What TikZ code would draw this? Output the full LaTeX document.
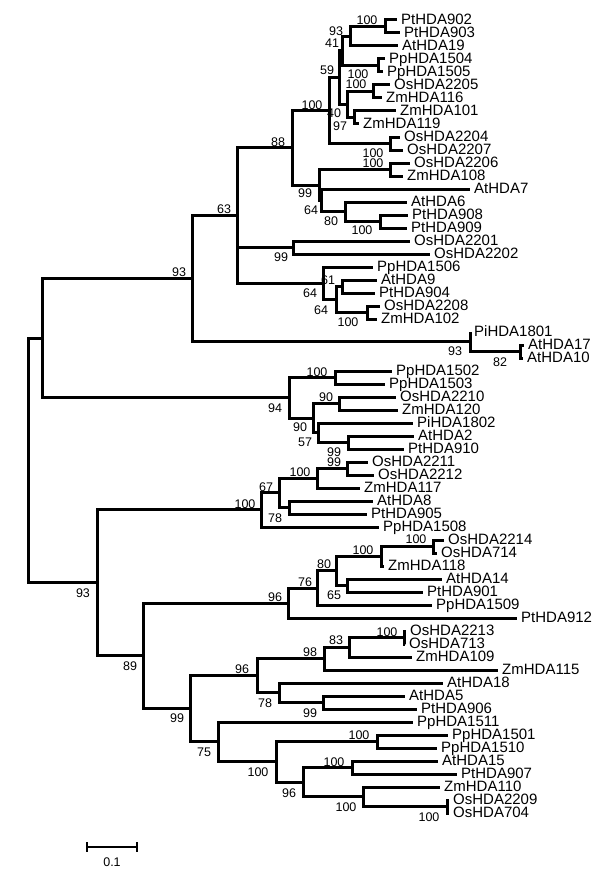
\documentclass[tikz,border=0pt]{standalone}
\usepackage{fontspec}
\setmainfont{Liberation Sans}
\tikzset{
 branch/.style={line width=3pt, line join=miter},
 leaflab/.style={anchor=base west, inner sep=0pt, xshift=4pt, yshift=-4.3pt, font=\fontsize{15}{15}\selectfont},
 bsl/.style={inner sep=0pt, font=\fontsize{12.5}{12.5}\selectfont},
 scalebar/.style={line width=1.6pt}
}
\newcommand{\leafnode}[4]{\coordinate (#1) at (#2,#3); \node[leaflab] (#1-t) at (#1) {#4};}
\newcommand{\inode}[3]{\coordinate (#1) at (#2,#3);}
\newcommand{\bsval}[4]{\node[bsl] (#1) at (#2,#3) {#4};}
\newcommand{\brn}[2]{\foreach \c in {#2} {\draw[branch] (#1) |- (\c);}}
\begin{document}
\begin{tikzpicture}[x=1pt,y=-1pt]
\useasboundingbox[fill=white] (0,0) rectangle (600,880);
% leaves
\leafnode{PtHDA902}{397}{20}{PtHDA902}
\leafnode{PtHDA903}{400}{33}{PtHDA903}
\leafnode{AtHDA19}{398}{46}{AtHDA19}
\leafnode{PpHDA1504}{385}{59}{PpHDA1504}
\leafnode{PpHDA1505}{383}{72}{PpHDA1505}
\leafnode{OsHDA2205}{390}{85}{OsHDA2205}
\leafnode{ZmHDA116}{382}{98}{ZmHDA116}
\leafnode{ZmHDA101}{396}{111}{ZmHDA101}
\leafnode{ZmHDA119}{359}{124}{ZmHDA119}
\leafnode{OsHDA2204}{400}{137}{OsHDA2204}
\leafnode{OsHDA2207}{403}{150}{OsHDA2207}
\leafnode{OsHDA2206}{410}{163}{OsHDA2206}
\leafnode{ZmHDA108}{403}{176}{ZmHDA108}
\leafnode{AtHDA7}{470}{189}{AtHDA7}
\leafnode{AtHDA6}{407}{202}{AtHDA6}
\leafnode{PtHDA908}{408}{215}{PtHDA908}
\leafnode{PtHDA909}{407}{228}{PtHDA909}
\leafnode{OsHDA2201}{410}{241}{OsHDA2201}
\leafnode{OsHDA2202}{430}{254}{OsHDA2202}
\leafnode{PpHDA1506}{373}{267}{PpHDA1506}
\leafnode{AtHDA9}{377}{280}{AtHDA9}
\leafnode{PtHDA904}{375}{293}{PtHDA904}
\leafnode{OsHDA2208}{380}{306}{OsHDA2208}
\leafnode{ZmHDA102}{377}{319}{ZmHDA102}
\leafnode{PiHDA1801}{470}{332}{PiHDA1801}
\leafnode{AtHDA17}{524}{345}{AtHDA17}
\leafnode{AtHDA10}{523}{358}{AtHDA10}
\leafnode{PpHDA1502}{392}{371}{PpHDA1502}
\leafnode{PpHDA1503}{385}{384}{PpHDA1503}
\leafnode{OsHDA2210}{396}{397}{OsHDA2210}
\leafnode{ZmHDA120}{398}{410}{ZmHDA120}
\leafnode{PiHDA1802}{413}{423}{PiHDA1802}
\leafnode{AtHDA2}{414}{436}{AtHDA2}
\leafnode{PtHDA910}{404}{449}{PtHDA910}
\leafnode{OsHDA2211}{368}{462}{OsHDA2211}
\leafnode{OsHDA2212}{374}{475}{OsHDA2212}
\leafnode{ZmHDA117}{360}{488}{ZmHDA117}
\leafnode{AtHDA8}{373}{501}{AtHDA8}
\leafnode{PtHDA905}{367}{514}{PtHDA905}
\leafnode{PpHDA1508}{379}{527}{PpHDA1508}
\leafnode{OsHDA2214}{444}{540}{OsHDA2214}
\leafnode{OsHDA714}{437}{553}{OsHDA714}
\leafnode{ZmHDA118}{384}{566}{ZmHDA118}
\leafnode{AtHDA14}{442}{579}{AtHDA14}
\leafnode{PtHDA901}{423}{592}{PtHDA901}
\leafnode{PpHDA1509}{432}{605}{PpHDA1509}
\leafnode{PtHDA912}{517}{618}{PtHDA912}
\leafnode{OsHDA2213}{406}{631}{OsHDA2213}
\leafnode{OsHDA713}{405}{644}{OsHDA713}
\leafnode{ZmHDA109}{412}{657}{ZmHDA109}
\leafnode{ZmHDA115}{498}{670}{ZmHDA115}
\leafnode{AtHDA18}{443}{683}{AtHDA18}
\leafnode{AtHDA5}{405}{696}{AtHDA5}
\leafnode{PtHDA906}{417}{709}{PtHDA906}
\leafnode{PpHDA1511}{413}{722}{PpHDA1511}
\leafnode{PpHDA1501}{448}{735}{PpHDA1501}
\leafnode{PpHDA1510}{437}{748}{PpHDA1510}
\leafnode{AtHDA15}{438}{761}{AtHDA15}
\leafnode{PtHDA907}{457}{774}{PtHDA907}
\leafnode{ZmHDA110}{440}{787}{ZmHDA110}
\leafnode{OsHDA2209}{449}{800}{OsHDA2209}
\leafnode{OsHDA704}{449}{813}{OsHDA704}
% internal nodes
\inode{root}{28}{460.6}
\inode{nA}{42}{338.4}
\inode{nB}{192}{278.6}
\inode{nSixtyThree}{237}{215.5}
\inode{nEightyEight}{292}{147.8}
\inode{nHa}{329}{110.6}
\inode{nFiftyNine}{339}{77.7}
\inode{nFortyOne}{342}{50.9}
\inode{nNinetyThreeA}{350}{36.25}
\inode{nH902}{385}{26.5}
\inode{nH1504}{378}{65.5}
\inode{nForty}{347}{104.5}
\inode{nH2205}{373}{91.5}
\inode{nNinetySeven}{354}{117.5}
\inode{nH2204}{390}{143.5}
\inode{nNinetyNineA}{319}{185}
\inode{nH2206}{390}{169.5}
\inode{nSixtyFourA}{321}{200.4}
\inode{nEightyA}{345}{211.75}
\inode{nH908}{380}{221.5}
\inode{nNinetyNineB}{293}{247.5}
\inode{nSixtyFourB}{323}{283.25}
\inode{nSixtyOne}{342}{286.5}
\inode{nSixtyFourC}{336}{299.5}
\inode{nH2208}{367}{312.5}
\inode{nNinetyThreeB}{470}{341.75}
\inode{nEightyTwo}{520}{351.5}
\inode{nNinetyFour}{289}{397.8}
\inode{nH1502}{335}{377.5}
\inode{nNinetyA}{313}{418.1}
\inode{nNinetyB}{339}{403.5}
\inode{nFiftySeven}{318}{432.75}
\inode{nNinetyNineC}{348}{442.5}
\inode{nBot}{97}{582.9}
\inode{nHb}{261}{509.9}
\inode{nSixtySeven}{279}{492.9}
\inode{nHc}{317}{478.25}
\inode{nNinetyNineD}{347}{468.5}
\inode{nSeventyEightA}{289}{507.5}
\inode{nEightyNine}{143}{655.9}
\inode{nNinetySixA}{288}{603}
\inode{nSeventySix}{317}{588}
\inode{nEightyB}{336}{570.9}
\inode{nHd}{381}{556.25}
\inode{nHe}{433}{546.5}
\inode{nSixtyFive}{347}{585.5}
\inode{nNinetyNineE}{190}{708.8}
\inode{nNinetySixB}{257}{675.7}
\inode{nNinetyEight}{324}{658.6}
\inode{nEightyThree}{349}{647.25}
\inode{nHf}{404}{637.5}
\inode{nSeventyEightB}{279}{692.75}
\inode{nNinetyNineF}{323}{702.5}
\inode{nSeventyFive}{218}{741.9}
\inode{nHg}{276}{761.8}
\inode{nHh}{377}{741.5}
\inode{nNinetySixC}{303}{782.1}
\inode{nHi}{352}{767.5}
\inode{nHj}{363}{796.75}
\inode{nHk}{447}{806.5}
% branches
\brn{root}{nA,nBot}
\brn{nA}{nB,nNinetyFour}
\brn{nB}{nSixtyThree,nNinetyThreeB}
\brn{nSixtyThree}{nEightyEight,nNinetyNineB,nSixtyFourB}
\brn{nEightyEight}{nHa,nNinetyNineA}
\brn{nHa}{nFiftyNine,nH2204}
\brn{nFiftyNine}{nFortyOne,nForty}
\brn{nFortyOne}{nNinetyThreeA,nH1504}
\brn{nNinetyThreeA}{nH902,AtHDA19}
\brn{nH902}{PtHDA902,PtHDA903}
\brn{nH1504}{PpHDA1504,PpHDA1505}
\brn{nForty}{nH2205,nNinetySeven}
\brn{nH2205}{OsHDA2205,ZmHDA116}
\brn{nNinetySeven}{ZmHDA101,ZmHDA119}
\brn{nH2204}{OsHDA2204,OsHDA2207}
\brn{nNinetyNineA}{nH2206,nSixtyFourA}
\brn{nH2206}{OsHDA2206,ZmHDA108}
\brn{nSixtyFourA}{AtHDA7,nEightyA}
\brn{nEightyA}{AtHDA6,nH908}
\brn{nH908}{PtHDA908,PtHDA909}
\brn{nNinetyNineB}{OsHDA2201,OsHDA2202}
\brn{nSixtyFourB}{PpHDA1506,nSixtyFourC}
\brn{nSixtyFourC}{nSixtyOne,nH2208}
\brn{nSixtyOne}{AtHDA9,PtHDA904}
\brn{nH2208}{OsHDA2208,ZmHDA102}
\brn{nNinetyThreeB}{PiHDA1801,nEightyTwo}
\brn{nEightyTwo}{AtHDA17,AtHDA10}
\brn{nNinetyFour}{nH1502,nNinetyA}
\brn{nH1502}{PpHDA1502,PpHDA1503}
\brn{nNinetyA}{nNinetyB,nFiftySeven}
\brn{nNinetyB}{OsHDA2210,ZmHDA120}
\brn{nFiftySeven}{PiHDA1802,nNinetyNineC}
\brn{nNinetyNineC}{AtHDA2,PtHDA910}
\brn{nBot}{nHb,nEightyNine}
\brn{nHb}{nSixtySeven,PpHDA1508}
\brn{nSixtySeven}{nHc,nSeventyEightA}
\brn{nHc}{nNinetyNineD,ZmHDA117}
\brn{nNinetyNineD}{OsHDA2211,OsHDA2212}
\brn{nSeventyEightA}{AtHDA8,PtHDA905}
\brn{nEightyNine}{nNinetySixA,nNinetyNineE}
\brn{nNinetySixA}{nSeventySix,PtHDA912}
\brn{nSeventySix}{nEightyB,PpHDA1509}
\brn{nEightyB}{nHd,nSixtyFive}
\brn{nHd}{nHe,ZmHDA118}
\brn{nHe}{OsHDA2214,OsHDA714}
\brn{nSixtyFive}{AtHDA14,PtHDA901}
\brn{nNinetyNineE}{nNinetySixB,nSeventyFive}
\brn{nNinetySixB}{nNinetyEight,nSeventyEightB}
\brn{nNinetyEight}{nEightyThree,ZmHDA115}
\brn{nEightyThree}{nHf,ZmHDA109}
\brn{nHf}{OsHDA2213,OsHDA713}
\brn{nSeventyEightB}{AtHDA18,nNinetyNineF}
\brn{nNinetyNineF}{AtHDA5,PtHDA906}
\brn{nSeventyFive}{PpHDA1511,nHg}
\brn{nHg}{nHh,nNinetySixC}
\brn{nHh}{PpHDA1501,PpHDA1510}
\brn{nNinetySixC}{nHi,nHj}
\brn{nHi}{AtHDA15,PtHDA907}
\brn{nHj}{ZmHDA110,nHk}
\brn{nHk}{OsHDA2209,OsHDA704}
% bootstrap values
\bsval{b1}{367}{20}{100}
\bsval{b2}{336}{31}{93}
\bsval{b3}{332}{43}{41}
\bsval{b4}{358}{74}{100}
\bsval{b5}{356}{84}{100}
\bsval{b6}{327}{70}{59}
\bsval{b7}{312}{105}{100}
\bsval{b8}{334}{113}{40}
\bsval{b9}{340}{126}{97}
\bsval{b10}{278}{142}{88}
\bsval{b11}{373}{153}{100}
\bsval{b12}{373}{163}{100}
\bsval{b13}{305}{193}{99}
\bsval{b14}{311}{210}{64}
\bsval{b15}{331}{221}{80}
\bsval{b16}{362}{230}{100}
\bsval{b17}{224}{209}{63}
\bsval{b18}{179}{272}{93}
\bsval{b19}{281}{257}{99}
\bsval{b20}{328}{280}{61}
\bsval{b21}{310}{293}{64}
\bsval{b22}{321}{310}{64}
\bsval{b23}{348}{322}{100}
\bsval{b24}{455}{351}{93}
\bsval{b25}{500}{362}{82}
\bsval{b26}{275}{408}{94}
\bsval{b27}{317}{372}{100}
\bsval{b28}{326}{397}{90}
\bsval{b29}{300}{427}{90}
\bsval{b30}{305}{442}{57}
\bsval{b31}{334}{452}{99}
\bsval{b32}{334}{462}{99}
\bsval{b33}{300}{472}{100}
\bsval{b34}{266}{487}{67}
\bsval{b35}{245}{504}{100}
\bsval{b36}{275}{518}{78}
\bsval{b37}{416}{539}{100}
\bsval{b38}{363}{550}{100}
\bsval{b39}{324}{564}{80}
\bsval{b40}{305}{582}{76}
\bsval{b41}{334}{595}{65}
\bsval{b42}{275}{597}{96}
\bsval{b43}{83}{593}{93}
\bsval{b44}{130}{666}{89}
\bsval{b45}{387}{632}{100}
\bsval{b46}{336}{640}{83}
\bsval{b47}{310}{652}{98}
\bsval{b48}{242}{669}{96}
\bsval{b49}{265}{703}{78}
\bsval{b50}{310}{713}{99}
\bsval{b51}{177}{718}{99}
\bsval{b52}{204}{752}{75}
\bsval{b53}{359}{735}{100}
\bsval{b54}{258}{772}{100}
\bsval{b55}{334}{762}{100}
\bsval{b56}{289}{793}{96}
\bsval{b57}{346}{807}{100}
\bsval{b58}{429}{817}{100}
% scale bar
\coordinate (sbL) at (87,847);
\coordinate (sbR) at (137,847);
\draw[scalebar] (sbL) -- (sbR);
\draw[scalebar] ([yshift=5pt]sbL) -- ([yshift=-5pt]sbL);
\draw[scalebar] ([yshift=5pt]sbR) -- ([yshift=-5pt]sbR);
\node[bsl] (sblab) at (112,862) {0.1};
\end{tikzpicture}
\end{document}
